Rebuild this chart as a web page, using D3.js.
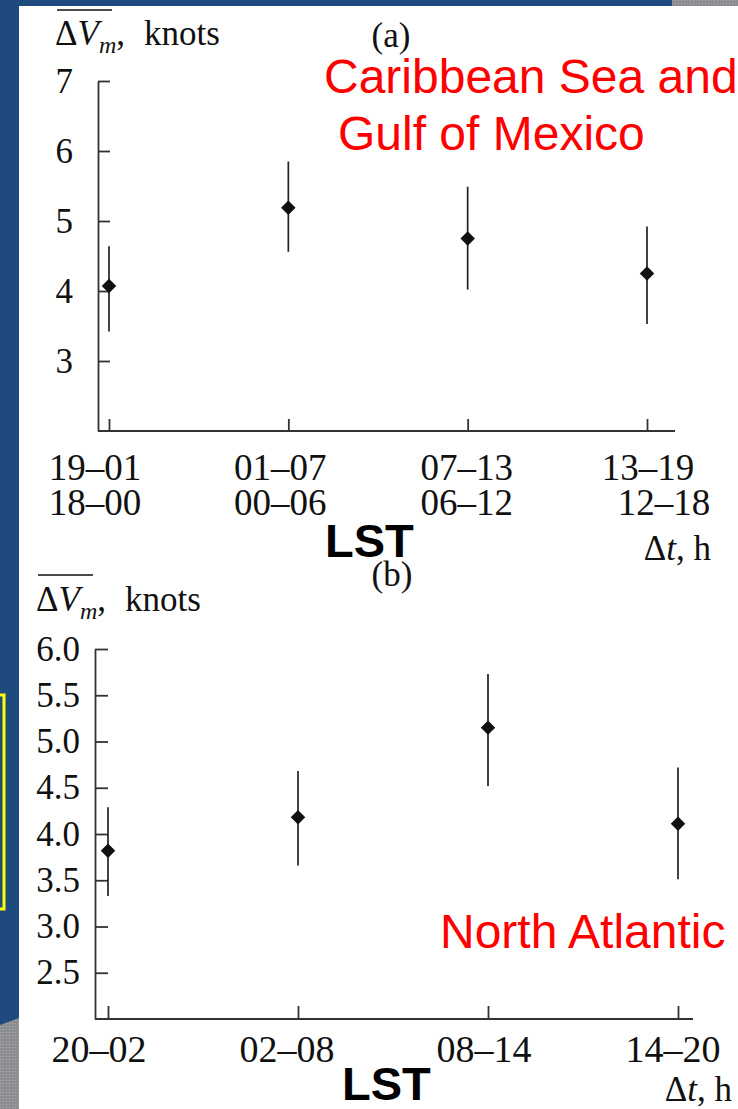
<!DOCTYPE html>
<html>
<head>
<meta charset="utf-8">
<script src="https://cdn.jsdelivr.net/npm/d3@7"></script>
<style>
    body { margin: 0; background: #1f4a7e; }
    svg { display: block; }
</style>
</head>
<body>
<div id="chart"></div>
<script>
// panel (a): Caribbean Sea and Gulf of Mexico
var topCats = ["19–01", "01–07", "07–13", "13–19"];
var topCatsLst = ["18–00", "00–06", "06–12", "12–18"];
var topMean = [4.07, 5.19, 4.75, 4.25];
var topLow = [3.42, 4.56, 4.02, 3.53];
var topHigh = [4.64, 5.85, 5.49, 4.92];
var topYTicks = [3, 4, 5, 6, 7];

// panel (b): North Atlantic
var botCats = ["20–02", "02–08", "08–14", "14–20"];
var botMean = [3.82, 4.18, 5.15, 4.11];
var botLow = [3.33, 3.66, 4.52, 3.51];
var botHigh = [4.29, 4.68, 5.73, 4.72];
var botYTicks = [2.5, 3.0, 3.5, 4.0, 4.5, 5.0, 5.5, 6.0];

// small horizontal nudges of the tick labels, as in the scanned figure
var topShift = [-14, -8, -1, 1];
var topShift2 = [-14, -8, -1, 17];
var botShift = [-9, -11, -4, -5];

(function () {
    var width = 738,
        height = 1109;
    var serif = "'Liberation Serif', 'Times New Roman', serif",
        sans = "'Liberation Sans', Arial, sans-serif",
        ink = "#111",
        axisInk = "#333";

    var svg = d3.select("#chart")
        .append("svg")
        .attr("width", width)
        .attr("height", height);

    var defs = svg.append("defs");
    var pat = defs.append("pattern")
        .attr("id", "grain")
        .attr("width", 3)
        .attr("height", 3)
        .attr("patternUnits", "userSpaceOnUse");
    pat.append("rect").attr("width", 3).attr("height", 3).attr("fill", "#8b8d90");
    pat.append("rect").attr("width", 1).attr("height", 1).attr("fill", "#a9abad");

    // slide background
    svg.append("rect").attr("width", width).attr("height", height).attr("fill", "#1f4a7e");
    svg.append("rect").attr("x", 672).attr("y", 0).attr("width", 66).attr("height", 6).attr("fill", "url(#grain)");
    svg.append("path").attr("d", "M0,1025L19,1018L19,1109L0,1109Z").attr("fill", "url(#grain)");
    svg.append("rect")
        .attr("x", -20).attr("y", 695)
        .attr("width", 24).attr("height", 214)
        .attr("fill", "none")
        .attr("stroke", "#ffff00")
        .attr("stroke-width", 3);
    svg.append("rect").attr("x", 19).attr("y", 6).attr("width", width - 19).attr("height", height - 6).attr("fill", "#fff");

    function yTitle(x, baseline, lineTop) {
        var t = svg.append("text")
            .attr("x", x)
            .attr("y", baseline)
            .attr("font-family", serif)
            .attr("font-size", 35)
            .attr("fill", ink);
        t.append("tspan").text("Δ");
        t.append("tspan").attr("font-style", "italic").text("V");
        t.append("tspan").attr("font-style", "italic").attr("font-size", 24).attr("dy", 8).text("m");
        t.append("tspan").attr("dy", -8).text(",");
        t.append("tspan").attr("dx", 19).text("knots");
        svg.append("line")
            .attr("x1", x + 2).attr("x2", x + 57)
            .attr("y1", lineTop).attr("y2", lineTop)
            .attr("stroke", ink)
            .attr("stroke-width", 1.6);
    }

    function dtLabel(xEnd, baseline) {
        var t = svg.append("text")
            .attr("x", xEnd)
            .attr("y", baseline)
            .attr("text-anchor", "end")
            .attr("font-family", serif)
            .attr("font-size", 35)
            .attr("fill", ink);
        t.append("tspan").text("Δ");
        t.append("tspan").attr("font-style", "italic").text("t");
        t.append("tspan").text(", h");
    }

    function panel(o) {
        var x = d3.scalePoint().domain(o.cats).range(o.xRange);
        var y = d3.scaleLinear().domain(o.yDomain).range(o.yRange);
        var g = svg.append("g");

        // y axis, ticks pointing inwards
        var yAxis = d3.axisLeft(y)
            .tickValues(o.yTicks)
            .tickFormat(d3.format(o.fmt))
            .tickSizeInner(-o.tick)
            .tickSizeOuter(0)
            .tickPadding(o.pad);
        var ya = g.append("g")
            .attr("transform", "translate(" + o.left + ",0)")
            .call(yAxis);
        ya.attr("font-family", serif).attr("font-size", 35);
        ya.selectAll("path, line").attr("stroke", axisInk).attr("stroke-width", 1.8);
        ya.selectAll("text").attr("fill", ink);

        // x axis
        var xAxis = d3.axisBottom(x)
            .tickSizeInner(-o.tick)
            .tickSizeOuter(0)
            .tickFormat("");
        var xa = g.append("g")
            .attr("transform", "translate(0," + o.yRange[0] + ")")
            .call(xAxis);
        xa.select(".domain").remove();
        xa.selectAll("line").attr("stroke", axisInk).attr("stroke-width", 1.8);
        g.append("line")
            .attr("x1", o.left).attr("x2", o.right)
            .attr("y1", o.yRange[0]).attr("y2", o.yRange[0])
            .attr("stroke", axisInk)
            .attr("stroke-width", 1.8);

        o.rows.forEach(function (row) {
            g.selectAll(null)
                .data(row.labels)
                .enter().append("text")
                .attr("x", function (d, i) { return x(o.cats[i]) + row.shift[i]; })
                .attr("y", row.y)
                .attr("text-anchor", "middle")
                .attr("font-family", serif)
                .attr("font-size", o.labelSize)
                .attr("fill", ink)
                .text(function (d) { return d; });
        });

        // error bars
        g.selectAll(".err")
            .data(o.cats)
            .enter().append("line")
            .attr("class", "err")
            .attr("x1", function (d) { return x(d); })
            .attr("x2", function (d) { return x(d); })
            .attr("y1", function (d, i) { return y(o.low[i]); })
            .attr("y2", function (d, i) { return y(o.high[i]); })
            .attr("stroke", "#222")
            .attr("stroke-width", 1.7);

        // diamonds
        g.selectAll(".pt")
            .data(o.cats)
            .enter().append("path")
            .attr("class", "pt")
            .attr("d", d3.symbol().type(d3.symbolSquare).size(105))
            .attr("transform", function (d, i) {
                return "translate(" + x(d) + "," + y(o.mean[i]) + ") rotate(45)";
            })
            .attr("fill", "#111");
    }

    panel({
        cats: topCats, mean: topMean, low: topLow, high: topHigh,
        yTicks: topYTicks, yDomain: [2, 7], fmt: "d",
        xRange: [109, 647], yRange: [431, 81],
        left: 98, right: 675, tick: 12, pad: 25, labelSize: 37,
        rows: [
            { labels: topCats, shift: topShift, y: 480 },
            { labels: topCatsLst, shift: topShift2, y: 515 }
        ]
    });

    panel({
        cats: botCats, mean: botMean, low: botLow, high: botHigh,
        yTicks: botYTicks, yDomain: [2, 6], fmt: ".1f",
        xRange: [108, 678], yRange: [1019, 649],
        left: 95, right: 693, tick: 13, pad: 15, labelSize: 38,
        rows: [
            { labels: botCats, shift: botShift, y: 1062 }
        ]
    });

    // titles and annotations
    yTitle(55, 45, 10);
    yTitle(36, 611, 575);
    dtLabel(711, 560);
    dtLabel(732, 1101);

    svg.append("text").attr("x", 391).attr("y", 47).attr("text-anchor", "middle")
        .attr("font-family", serif).attr("font-size", 35).attr("fill", ink).text("(a)");
    svg.append("text").attr("x", 392).attr("y", 586).attr("text-anchor", "middle")
        .attr("font-family", serif).attr("font-size", 35).attr("fill", ink).text("(b)");

    svg.append("text").attr("x", 325).attr("y", 557)
        .attr("font-family", sans).attr("font-weight", "bold").attr("font-size", 47).attr("fill", "#000").text("LST");
    svg.append("text").attr("x", 342).attr("y", 1100)
        .attr("font-family", sans).attr("font-weight", "bold").attr("font-size", 47).attr("fill", "#000").text("LST");

    var red = [
        { t: "Caribbean Sea and", x: 324, y: 93 },
        { t: "Gulf of Mexico", x: 338, y: 150 },
        { t: "North Atlantic", x: 440, y: 948 }
    ];
    svg.selectAll(".note")
        .data(red)
        .enter().append("text")
        .attr("class", "note")
        .attr("x", function (d) { return d.x; })
        .attr("y", function (d) { return d.y; })
        .attr("font-family", sans)
        .attr("font-size", 48)
        .attr("fill", "#ff0000")
        .text(function (d) { return d.t; });
})();
</script>
</body>
</html>
